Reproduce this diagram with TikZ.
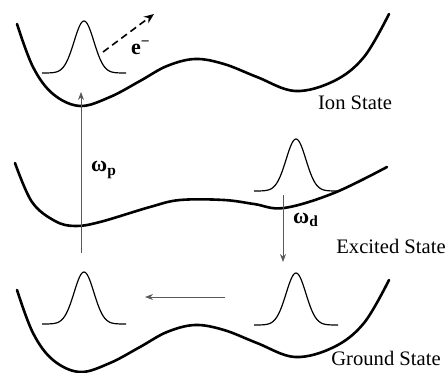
\documentclass[tikz,border=0pt]{standalone}
\usepackage{fontspec}
\setmainfont{Liberation Serif}
\usetikzlibrary{arrows.meta}

\begin{document}
\begin{tikzpicture}[
    x=0.5pt, y=-0.5pt,
    pes/.style={
        line width=1.3pt,
        draw=black,
        line cap=round
    },
    packet line/.style={
        line width=0.6pt,
        draw=black
    },
    transition/.style={
        -{Stealth[length=4pt,width=3pt]},
        line width=0.45pt,
        draw=black!65
    },
    electron/.style={
        -{Stealth[length=5pt,width=4pt]},
        line width=0.8pt,
        dash pattern=on 3.5pt off 2.2pt
    },
    label/.style={
        font=\rmfamily\fontsize{10.3}{12}\selectfont,
        inner sep=0pt
    },
    freq/.style={
        font=\rmfamily\fontsize{11}{12}\selectfont\bfseries,
        inner sep=0pt
    },
    packet/.pic={
        \draw[packet line] plot[domain=-42:42, samples=71, smooth] (\x,{-52*exp(-(\x/14)^2)});
    }
]
\useasboundingbox (0,0) rectangle (448,373);

% Double-well curves (ground and ion share one shape)
\foreach \shift in {0,-266}{
    \draw[pes, yshift=\shift*-0.5pt] plot[smooth, tension=0.6] coordinates {
        (17,290) (33,333) (53,360) (80,372) (110,363) (140,347) (167,332)
        (195,325) (224,330) (257,343) (295,357) (334,347) (364,323) (389,280)};
}
% Excited state curve
\draw[pes] plot[smooth, tension=0.6] coordinates {
    (15,163) (32,202) (55,221) (75,226) (100,222) (150,207) (180,200)
    (224,200) (254,204) (284,208) (334,193) (387,167)};

% Wave packets
\pic at (84,73) {packet};
\pic at (296,191) {packet};
\pic at (84,324) {packet};
\pic at (296,325) {packet};

% Transition end points
\coordinate (pump start) at (81,253);
\coordinate (pump end) at (81,92);
\coordinate (dump start) at (283,195);
\coordinate (dump end) at (283,262);
\coordinate (move start) at (225,297);
\coordinate (move end) at (145,297);
\coordinate (emit start) at (103,52);
\coordinate (emit end) at (154,14);

% Transitions
\draw[transition] (pump start) -- (pump end);
\draw[transition] (dump start) -- (dump end);
\draw[transition] (move start) -- (move end);
\draw[electron] (emit start) -- (emit end);

% Labels
\node[freq] (electron label) at (141,48) {e\textsuperscript{−}};
\node[freq] (pump label) at (104,170) {ω\textsubscript{p}};
\node[freq] (dump label) at (306,220) {ω\textsubscript{d}};
\node[label] (ion label) at (355,103) {Ion State};
\node[label] (excited label) at (391,246) {Excited State};
\node[label] (ground label) at (386,358) {Ground State};

\end{tikzpicture}
\end{document}
